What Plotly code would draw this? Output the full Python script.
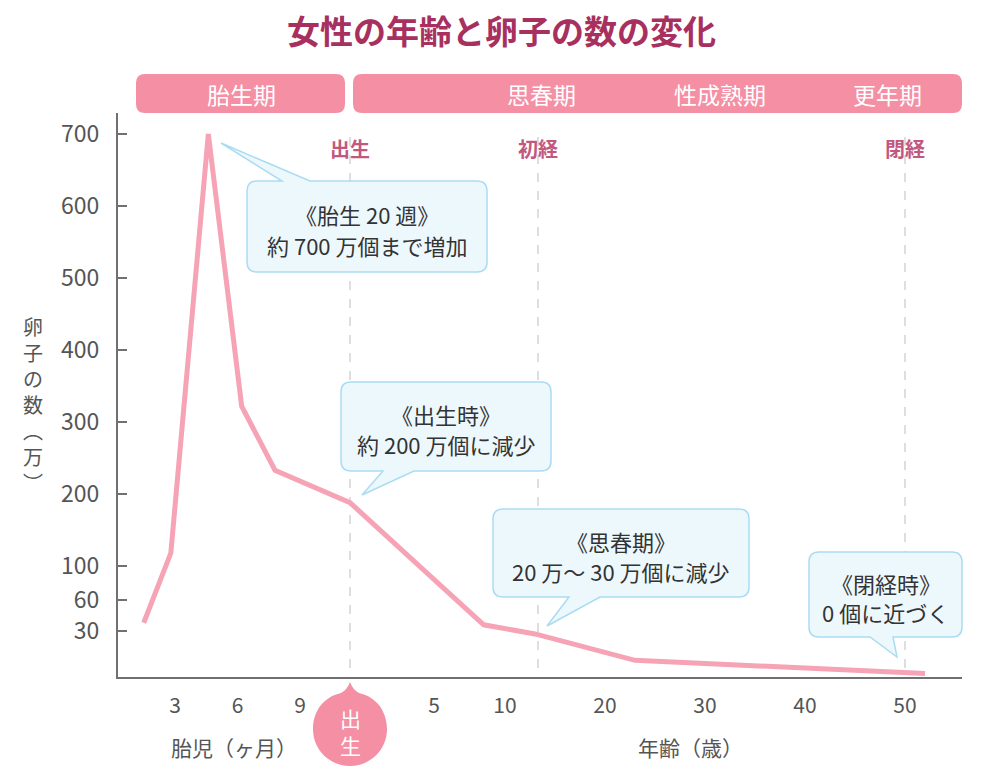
import numpy as np
import plotly.graph_objects as go

# 卵子の数（万個）: 胎児期は月数、出生後は年齢
fetal_month = [1.5, 2.8, 4.6, 6.2, 7.8]
fetal_eggs = [38, 118, 700, 322, 233]
age_year = [0, 8.5, 13, 23, 52]
age_eggs = [188, 36, 28, 10, 1]

y_ticks = [700, 600, 500, 400, 300, 200, 100, 60, 30]
month_ticks = [3, 6, 9]
age_ticks = [5, 10, 20, 30, 40, 50]

events = ['出生', '初経', '閉経']
event_age = [0, 13.3, 50]

phase_labels = ['思春期', '性成熟期', '更年期']

callouts = [
    ('《胎生 20 週》', '約 700 万個まで増加'),
    ('《出生時》', '約 200 万個に減少'),
    ('《思春期》', '20 万～ 30 万個に減少'),
    ('《閉経時》', '0 個に近づく'),
]

W, H = 1000, 783
L, T, R, B = 118, 113, 962, 677
FONT = 'Noto Sans CJK JP'


# 軸のスケール（区間ごとに目盛り間隔が異なる）
def x_month(m):
    return 175 + (np.asarray(m, dtype=float) - 3) * 62.5 / 3


def x_age(a):
    return np.interp(a, [0, 5, 10, 50, 60], [350, 434, 505, 905, 1005])


def y_val(v):
    return H - np.interp(v, [0, 30, 60, 100, 700, 800], [675, 631, 600, 566, 134, 62])


def px(x):
    return (x - L) / (R - L)


def py(y):
    return (B - y) / (B - T)


def path(cmds):
    out = []
    for c in cmds:
        if isinstance(c, str):
            out.append(c)
        else:
            out.append('%.5f,%.5f' % (px(c[0]), py(c[1])))
    return ' '.join(out)


def rounded(x0, y0, x1, y1, r=9, tail=None):
    c = ['M', (x0 + r, y0)]
    if tail and tail[0] == 'top':
        c += ['L', (tail[1], y0), 'L', (tail[3], tail[4]), 'L', (tail[2], y0)]
    c += ['L', (x1 - r, y0), 'Q', (x1, y0), (x1, y0 + r),
          'L', (x1, y1 - r), 'Q', (x1, y1), (x1 - r, y1)]
    if tail and tail[0] == 'bottom':
        c += ['L', (tail[2], y1), 'L', (tail[3], tail[4]), 'L', (tail[1], y1)]
    c += ['L', (x0 + r, y1), 'Q', (x0, y1), (x0, y1 - r),
          'L', (x0, y0 + r), 'Q', (x0, y0), (x0 + r, y0), 'Z']
    return path(c)


def label(x, y, text, size, color, ref='paper'):
    return dict(x=x, y=y, xref=ref, yref='paper', text=text, showarrow=False,
                xanchor='center', yanchor='middle',
                font=dict(size=size, color=color, family=FONT))


x_line = np.concatenate([x_month(fetal_month), x_age(age_year)])
y_line = y_val(np.array(fetal_eggs + age_eggs))

fig = go.Figure()
fig.add_trace(go.Scatter(
    x=x_line, y=y_line, mode='lines',
    line=dict(color='#f5a3b5', width=5),
    hoverinfo='skip', showlegend=False
))

shapes = []
annotations = []

# 時期の帯
shapes.append(dict(type='path', xref='paper', yref='paper', layer='above',
                   path=rounded(136, 74, 345, 113), fillcolor='#f48fa4', line=dict(width=0)))
shapes.append(dict(type='path', xref='paper', yref='paper', layer='above',
                   path=rounded(353, 74, 962, 113), fillcolor='#f48fa4', line=dict(width=0)))
annotations.append(label(px(241), py(94), '胎生期', 23, 'white'))
for lab, a in zip(phase_labels, [541, 720, 887]):
    annotations.append(label(px(a), py(94), lab, 23, 'white'))

# イベントの破線
for ev, a in zip(events, event_age):
    xe = float(x_age(a))
    shapes.append(dict(type='line', xref='x', yref='paper', x0=xe, x1=xe,
                       y0=py(668), y1=py(128), layer='below',
                       line=dict(color='#d4d4d4', width=1.5, dash='dash')))
    annotations.append(label(xe, py(148), '<b>%s</b>' % ev, 20, '#c2587f', ref='x'))

# 吹き出し
boxes = [
    (247, 181, 487, 272, ('top', 282, 310, 221, 143)),
    (341, 382, 551, 471, ('bottom', 383, 414, 362, 495)),
    (493, 509, 749, 597, ('bottom', 569, 600, 547, 626)),
    (809, 552, 962, 637, ('bottom', 870, 893, 897, 657)),
]
for (x0, y0, x1, y1, tail), (l1, l2) in zip(boxes, callouts):
    shapes.append(dict(type='path', xref='paper', yref='paper', layer='above',
                       path=rounded(x0, y0, x1, y1, 10, tail),
                       fillcolor='#edf8fd', line=dict(color='#a9dcf3', width=1.5)))
    cx = (x0 + x1) / 2
    annotations.append(label(px(cx), py(y0 + 0.36 * (y1 - y0)), l1, 22, '#333333'))
    annotations.append(label(px(cx), py(y0 + 0.7 * (y1 - y0)), l2, 22, '#333333'))

# 出生マーカー
xb = float(x_age(0))
shapes.append(dict(type='path', xref='paper', yref='paper', layer='above',
                   path=path(['M', (xb, 682),
                              'Q', (xb + 3, 690), (xb + 9, 693),
                              'C', (xb + 27, 697), (xb + 37, 712), (xb + 37, 729),
                              'C', (xb + 37, 750), (xb + 20, 766), (xb, 766),
                              'C', (xb - 20, 766), (xb - 37, 750), (xb - 37, 729),
                              'C', (xb - 37, 712), (xb - 27, 697), (xb - 9, 693),
                              'Q', (xb - 3, 690), (xb, 682), 'Z']),
                   fillcolor='#f48fa4', line=dict(width=0)))
annotations.append(label(px(xb), py(731), '出<br>生', 21, 'white'))

# 軸タイトル
annotations.append(label(px(234), py(747), '胎児（ヶ月）', 21, '#555555'))
annotations.append(label(px(690), py(747), '年齢（歳）', 21, '#555555'))
annotations.append(label(px(33), py(404), '<br>'.join('卵子の数︵万︶'), 20, '#555555'))

# タイトル
annotations.append(label(px(501), py(30), '<b>女性の年齢と卵子の数の変化</b>', 33, '#a8305f'))

fig.update_layout(
    width=W, height=H,
    margin=dict(l=L, r=W - R, t=T, b=H - B),
    paper_bgcolor='white', plot_bgcolor='white',
    font=dict(family=FONT, color='#555555'),
    shapes=shapes, annotations=annotations,
    xaxis=dict(range=[L, R], showgrid=False, zeroline=False,
               showline=True, linecolor='#707070', linewidth=2,
               tickvals=list(x_month(month_ticks)) + list(x_age(age_ticks)),
               ticktext=[str(v) for v in month_ticks + age_ticks],
               ticks='outside', ticklen=9, tickcolor='rgba(0,0,0,0)',
               tickfont=dict(size=21, color='#555555')),
    yaxis=dict(range=[H - B, H - T], showgrid=False, zeroline=False,
               showline=True, linecolor='#707070', linewidth=2,
               tickvals=list(y_val(y_ticks)), ticktext=[str(v) for v in y_ticks],
               ticks='inside', ticklen=9, tickwidth=1.5, tickcolor='#707070',
               ticklabelstandoff=12,
               tickfont=dict(size=23, color='#555555')),
)

fig.write_html('out.html', config={'displayModeBar': False},
               post_script="document.body.style.margin='0px';")
